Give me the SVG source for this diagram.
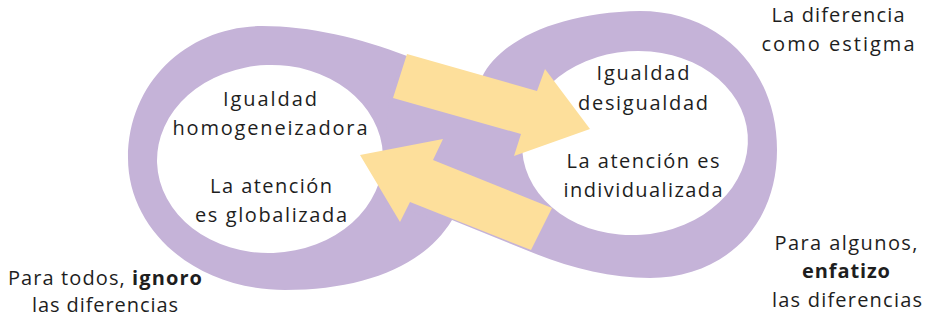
<svg xmlns="http://www.w3.org/2000/svg" width="929" height="325" viewBox="0 0 929 325">
<style>
.t{font-family:"Open Sans","Liberation Sans",sans-serif;font-size:20px;fill:#1e1e1e;text-anchor:middle}
.b{font-weight:bold}
.band{fill:#C5B3D8}
.hole{fill:#ffffff}
.arrow{fill:#FDDF9B}
</style>
<rect width="929" height="325" fill="#ffffff"/>
<g id="infinity">
<path class="band" d="M407,56 L482,77 C500,40 560,12 640,11 C720,11 777,70 777,150 C777,230 720,278 650,278 C610,278 570,268 531,252 L452,220 C425,265 365,290 285,290 C195,290 128,230 128,158 C128,80 190,26 262,26 C310,26 360,38 407,56 Z"/>
<path class="band" d="M405,58 L485,80 L530,150 L548,210 L531,250 L452,219 L440,222 L380,200 L390,90 Z"/>
<ellipse class="hole" cx="270" cy="159" rx="113" ry="94" transform="rotate(-2 270 159)"/>
<ellipse class="hole" cx="635" cy="143" rx="113" ry="92" transform="rotate(-4 635 143)"/>
</g>
<g id="connectors">
<polygon class="arrow" points="407,54 537,91 545,69 590,129 514,156 521,134 393,98"/>
<polygon class="arrow" points="552,208 433,160 443,139 360,155 400,222 410,202 531,250"/>
</g>
<g id="node-left">
<text class="t" x="270" y="106" textLength="94">Igualdad</text>
<text class="t" x="270" y="135" textLength="195">homogeneizadora</text>
<text class="t" x="271" y="193" textLength="122">La atención</text>
<text class="t" x="271" y="222" textLength="152">es globalizada</text>
</g>
<g id="node-right">
<text class="t" x="643" y="80" textLength="93">Igualdad</text>
<text class="t" x="643" y="110" textLength="130">desigualdad</text>
<text class="t" x="643" y="168" textLength="153">La atención es</text>
<text class="t" x="643" y="197" textLength="159">individualizada</text>
</g>
<g id="label-top-right">
<text class="t" x="838" y="22" textLength="133">La diferencia</text>
<text class="t" x="838" y="51" textLength="153">como estigma</text>
</g>
<g id="label-bottom-right">
<text class="t" x="846" y="250" textLength="143">Para algunos,</text>
<text class="t b" x="846" y="278" textLength="88">enfatizo</text>
<text class="t" x="847" y="307" textLength="150">las diferencias</text>
</g>
<g id="label-bottom-left">
<text class="t" x="105" y="285" textLength="194">Para todos, <tspan class="b">ignoro</tspan></text>
<text class="t" x="105" y="312" textLength="146">las diferencias</text>
</g>
</svg>
